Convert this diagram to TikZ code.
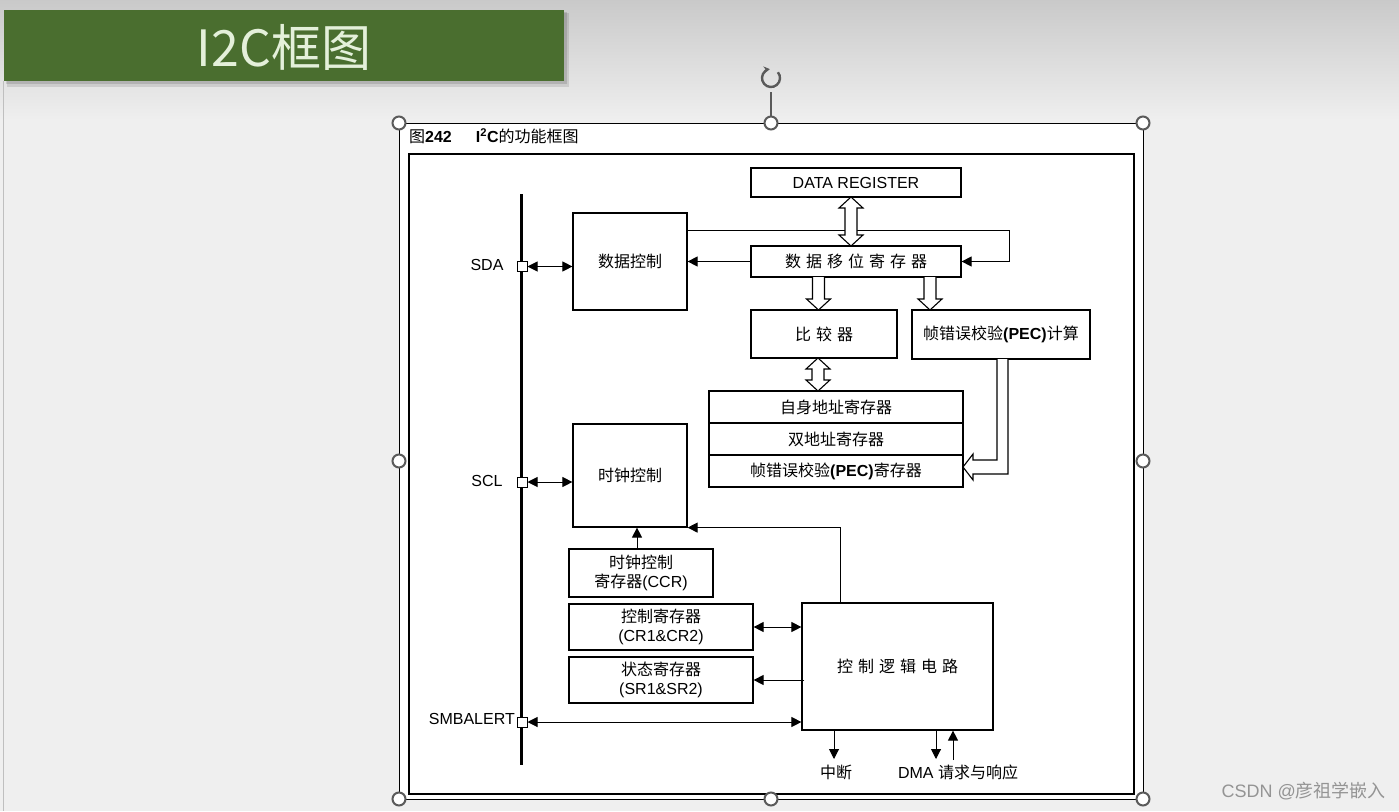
\documentclass[tikz,border=0pt]{standalone}
\usepackage{fontspec}
\setmainfont{Liberation Sans}
\newfontfamily\cjk{Noto Sans CJK SC}
\usetikzlibrary{arrows.meta,calc}
\newcommand\z[1]{{\cjk #1}}
\newcommand\gp{\hspace{5pt}}
\definecolor{bannergreen}{HTML}{4A6E2F}
\definecolor{titlefg}{HTML}{E4F0DA}
\definecolor{slidebg}{HTML}{EFEFEF}
\definecolor{handlec}{HTML}{5A5A5A}
% hollow double vertical arrow: x, ytop, ybot
\newcommand\hdbl[3]{\draw[hollow] (#1,#2) -- (#1+12,#2+11) -- (#1+6,#2+11) -- (#1+6,#3-11) -- (#1+12,#3-11) -- (#1,#3) -- (#1-12,#3-11) -- (#1-6,#3-11) -- (#1-6,#2+11) -- (#1-12,#2+11) -- cycle;}
% hollow single down arrow: x, ytop, ybot
\newcommand\hdown[3]{\draw[hollow] (#1-6,#2) -- (#1-6,#3-11) -- (#1-12,#3-11) -- (#1,#3) -- (#1+12,#3-11) -- (#1+6,#3-11) -- (#1+6,#2);}
\begin{document}
\begin{tikzpicture}[x=1pt,y=-1pt,
  font=\fontsize{16}{19}\selectfont,
  box/.style={draw,line width=1.2pt,inner sep=0pt,align=center,fill=white},
  sq/.style={draw,line width=1pt,fill=white,minimum size=10pt,inner sep=0pt},
  tip/.tip={Triangle[length=10pt,width=10pt]},
  arr/.style={line width=1pt,-tip},
  dbl/.style={line width=1pt,tip-tip},
  hollow/.style={line width=1.1pt,fill=white,line join=miter},
  handle/.style={circle,draw=handlec,line width=2pt,fill=white,minimum size=13pt,inner sep=0pt}
]
\useasboundingbox (0,0) rectangle (1399,811);
% slide background
\fill[slidebg] (0,0) rectangle (1399,811);
\shade[top color=black!21,bottom color=slidebg] (0,0) rectangle (1399,120);
\draw[black!25,line width=0.8pt] (3.5,81) -- (3.5,811);
% banner
\fill[black,opacity=0.10] (7,13) rectangle (569,87);
\fill[black,opacity=0.12] (6,12) rectangle (567,84);
\fill[bannergreen] (4,10) rectangle (564,81);
\node[font=\cjk\fontsize{50}{50}\selectfont,text=titlefg,inner sep=0pt] (title) at (284,47) {I2C框图};
% figure sheet
\draw[line width=0.8pt,fill=white] (399,123) rectangle (1143,799);
\draw[line width=1.3pt] (409,154) rectangle (1134,794);
\node[anchor=west,inner sep=0pt] (cap) at (409,136) {\z{图}\textbf{242}\hspace{24pt}\textbf{I\textsuperscript{2}C}\z{的功能框图}};
% rotation handle
\draw[handlec,line width=1.2pt] (771,92) -- (771,117);
\draw[handlec,line width=2.4pt,-{Stealth[length=6pt,width=7pt]}] (771,78) ++(-40:9) arc[start angle=-40,end angle=262,radius=9];
% bus
\draw[line width=3pt] (521.5,194) -- (521.5,765);
\node[sq] (sda) at (522,266.5) {};
\node[sq] (scl) at (522,482) {};
\node[sq] (smb) at (522,722) {};
\node (sdal) at (487,265) {SDA};
\node (scll) at (487,481) {SCL};
\node[anchor=east,inner sep=1pt] (smbl) at (516,719) {SMBALERT};
% boxes
\node[box,minimum width=114pt,minimum height=97pt] (dc) at (630,261.5) {\z{数据控制}};
\node[box,minimum width=114pt,minimum height=103pt] (cc) at (630,475.5) {\z{时钟控制}};
\node[box,minimum width=210pt,minimum height=29pt] (dr) at (856,182.5) {\raisebox{-2pt}{DATA REGISTER}};
\node[box,minimum width=210pt,minimum height=31pt] (sr) at (856,261.5) {\z{数\gp 据\gp 移\gp 位\gp 寄\gp 存\gp 器}};
\node[box,minimum width=146pt,minimum height=48pt] (cmp) at (824,334) {\z{比\gp 较\gp 器}};
\node[box,minimum width=178pt,minimum height=49pt] (pec) at (1001,334.5) {\z{帧错误校验}\textbf{(PEC)}\z{计算}};
\node[box,minimum width=254pt,minimum height=32pt] (own) at (836,407) {\z{自身地址寄存器}};
\node[box,minimum width=254pt,minimum height=32pt] (dual) at (836,439) {\z{双地址寄存器}};
\node[box,minimum width=254pt,minimum height=32pt] (pecr) at (836,471) {\z{帧错误校验}\textbf{(PEC)}\z{寄存器}};
\node[box,minimum width=144pt,minimum height=48pt] (ccr) at (641,573) {\z{时钟控制}\\\z{寄存器}(CCR)};
\node[box,minimum width=184pt,minimum height=46pt] (cr) at (661,627) {\z{控制寄存器}\\(CR1\&CR2)};
\node[box,minimum width=184pt,minimum height=46pt] (srr) at (661,680) {\z{状态寄存器}\\(SR1\&SR2)};
\node[box,minimum width=191pt,minimum height=127pt] (cl) at (897.5,666.5) {\z{控\gp 制\gp 逻\gp 辑\gp 电\gp 路}};
% connectors
\draw[dbl] (sda.east) -- (sda.east -| dc.west);
\draw[dbl] (scl.east) -- (scl.east -| cc.west);
\draw[dbl] (smb.east) -- (smb.east -| cl.west);
\draw[arr] ([yshift=-18pt]dc.north east) -| ([xshift=48pt]sr.east) -- (sr.east);
\draw[arr] (sr.west) -- (sr.west -| dc.east);
\draw[arr] ([xshift=-4pt]ccr.north) -- ([xshift=-4pt]ccr.north |- cc.south);
\draw[arr] ([xshift=-57.5pt]cl.north) |- (cc.south east);
\draw[dbl] (cr.east) -- (cr.east -| cl.west);
\draw[arr] ([xshift=3pt]cl.west |- srr.east) -- (srr.east);
\coordinate (intend) at (834,759);
\coordinate (dmad) at (936,759);
\coordinate (dmau) at (953,760);
\draw[arr] (cl.south -| intend) -- (intend);
\draw[arr] (cl.south -| dmad) -- (dmad);
\draw[arr] (dmau) -- (cl.south -| dmau);
\node (intl) at (836,772) {\z{中断}};
\node (dmal) at (958,772) {DMA \z{请求与响应}};
% hollow arrows
\hdbl{851}{197}{246}
\hdown{818.5}{277}{310}
\hdown{930}{277}{310}
\hdbl{818}{358}{391}
\draw[hollow] (997,359) -- (997,460) -- (973,460) -- (973,454) -- (963,467) -- (973,480) -- (973,474) -- (1008,474) -- (1008,359);
% selection handles
\foreach \i/\p in {1/{(399,123)},2/{(771,123)},3/{(1143,123)},4/{(399,461)},5/{(1143,461)},6/{(399,799)},7/{(771,799)},8/{(1143,799)}}
  \node[handle] (h\i) at \p {};
% watermark
\node[anchor=east,text=black!42,inner sep=0pt,font=\fontsize{18}{20}\selectfont] (wm) at (1386,791) {CSDN @\z{彦祖学嵌入}};
\end{tikzpicture}
\end{document}
